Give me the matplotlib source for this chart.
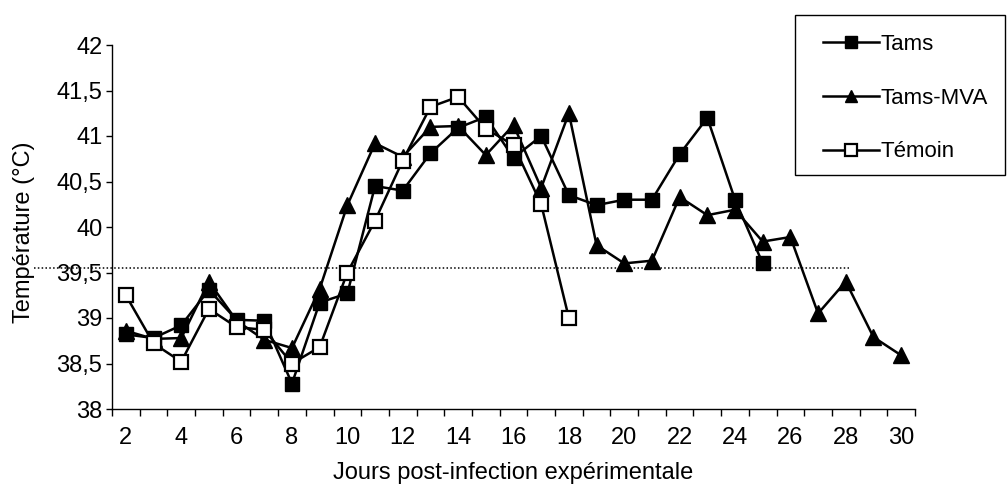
import matplotlib
matplotlib.use("Agg")
import matplotlib.pyplot as plt
from matplotlib.patches import Rectangle
from matplotlib.ticker import FixedLocator, NullFormatter

plt.rcParams['font.family'] = ['Liberation Sans', 'DejaVu Sans']

# Jours et températures moyennes par lot
jours_tams = list(range(2, 26))
temp_tams = [38.82, 38.78, 38.92, 39.31, 38.98, 38.97, 38.28, 39.17, 39.27, 40.45,
             40.40, 40.81, 41.09, 41.21, 40.76, 41.00, 40.35, 40.24, 40.30, 40.30,
             40.80, 41.20, 40.30, 39.60]

jours_mva = list(range(2, 31))
temp_mva = [38.86, 38.77, 38.78, 39.40, 38.97, 38.76, 38.67, 39.32, 40.24, 40.92,
            40.77, 41.10, 41.11, 40.79, 41.12, 40.43, 41.25, 39.80, 39.60, 39.63,
            40.33, 40.13, 40.19, 39.84, 39.89, 39.05, 39.40, 38.79, 38.59]

jours_temoin = list(range(2, 19))
temp_temoin = [39.25, 38.72, 38.52, 39.10, 38.90, 38.87, 38.50, 38.68, 39.50, 40.07,
               40.73, 41.32, 41.43, 41.08, 40.90, 40.25, 39.00]

seuil = 39.55
y_ticks = [38, 38.5, 39, 39.5, 40, 40.5, 41, 41.5, 42]
x_labels = list(range(2, 31, 2))

W, H = 1007, 484
fig = plt.figure(figsize=(W / 100, H / 100), dpi=100)
ax = fig.add_axes([112/W, 1 - 409/H, 803/W, 364/H])

ax.plot(jours_tams, temp_tams, color='black', lw=1.8, marker='s', ms=10.5,
        mfc='black', mec='black', label='Tams', zorder=3)
ax.plot(jours_mva, temp_mva, color='black', lw=1.8, marker='^', ms=11,
        mfc='black', mec='black', label='Tams-MVA', zorder=4)
ax.plot(jours_temoin, temp_temoin, color='black', lw=1.8, marker='s', ms=9.5,
        mfc='white', mec='black', mew=1.6, label='Témoin', zorder=5)

# seuil d'hyperthermie
ax.plot([-1.3, 28.1], [seuil, seuil], color='black', lw=1.1,
        linestyle=(0, (1, 1.5)), clip_on=False, zorder=2)

ax.set_xlim(1.5, 30.5)
ax.set_ylim(38, 42)

ax.set_yticks(y_ticks)
ax.set_yticklabels([f"{v:g}".replace('.', ',') for v in y_ticks], fontsize=17)
ax.set_xticks(x_labels)
ax.set_xticklabels([str(v) for v in x_labels], fontsize=17)
ax.xaxis.set_minor_locator(FixedLocator([d + 0.5 for d in range(1, 31)]))
ax.xaxis.set_minor_formatter(NullFormatter())
ax.tick_params(axis='x', which='major', length=0, pad=13)
ax.tick_params(axis='x', which='minor', length=5, width=1)
ax.tick_params(axis='y', length=4, width=1, pad=3)

for side in ('top', 'right'):
    ax.spines[side].set_visible(False)
for side in ('left', 'bottom'):
    ax.spines[side].set_linewidth(1)

ax.set_xlabel('Jours post-infection expérimentale', fontsize=17)
ax.set_ylabel('Température (°C)', fontsize=17)
ax.xaxis.set_label_coords(0.5, -0.145)
ax.yaxis.set_label_coords(-0.096, 0.486)

# cadre de la légende dessiné à part
fig.patches.append(Rectangle((795/W, 1 - 175/H), 210/W, 160/H,
                             transform=fig.transFigure, fill=False,
                             edgecolor='black', linewidth=1))
fig.legend(loc='upper left', bbox_to_anchor=(823/W, 1 - 34/H),
           borderaxespad=0, borderpad=0, fontsize=16, frameon=False,
           handlelength=2.5, handletextpad=0.1, labelspacing=1.47,
           markerscale=0.85)

fig.savefig('out.png', dpi=100)
